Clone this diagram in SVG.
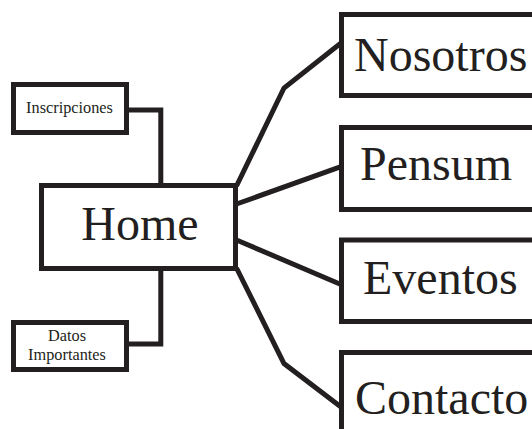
<svg xmlns="http://www.w3.org/2000/svg" width="532" height="429" viewBox="0 0 532 429">
<style>
.box{fill:#fff;stroke:#231f20;stroke-width:5}
.ln{fill:none;stroke:#231f20;stroke-width:5;stroke-linejoin:miter}
.big{font-family:"Liberation Serif","Times New Roman",serif;font-size:48px;fill:#231f20}
.sm{font-family:"Liberation Serif","Times New Roman",serif;font-size:16.3px;fill:#231f20;text-anchor:middle}
</style>
<rect width="532" height="429" fill="#fff"/>
<g id="connectors">
<polyline class="ln" points="127,110 160.8,110 160.8,186"/>
<polyline class="ln" points="160.8,268 160.8,344 127,344"/>
<polyline class="ln" points="236.5,186 284,88 341,43"/>
<polyline class="ln" points="236.5,204 341,166.7"/>
<polyline class="ln" points="236.5,240 341,284.5"/>
<polyline class="ln" points="236.5,268 284,363.5 341,407"/>
</g>
<g id="inscripciones">
<rect class="box" x="13.5" y="84.5" width="113" height="48"/>
<text class="sm" x="69.5" y="113">Inscripciones</text>
</g>
<g id="datos">
<rect class="box" x="13.5" y="322.5" width="113" height="47"/>
<text class="sm" x="67" y="341">Datos</text>
<text class="sm" x="67" y="360">Importantes</text>
</g>
<g id="home">
<rect class="box" x="41.5" y="185.5" width="194" height="83"/>
<text class="big" x="140" y="240" font-size="46" text-anchor="middle">Home</text>
</g>
<g id="nosotros">
<rect class="box" x="341.5" y="14.5" width="250" height="81"/>
<text class="big" x="354" y="71">Nosotros</text>
</g>
<g id="pensum">
<rect class="box" x="341.5" y="127.5" width="250" height="82"/>
<text class="big" x="360" y="180">Pensum</text>
</g>
<g id="eventos">
<rect class="box" x="341.5" y="240" width="250" height="81.5"/>
<text class="big" x="363" y="294">Eventos</text>
</g>
<g id="contacto">
<rect class="box" x="341.5" y="352.5" width="250" height="120"/>
<text class="big" x="355" y="414">Contacto</text>
</g>
</svg>
